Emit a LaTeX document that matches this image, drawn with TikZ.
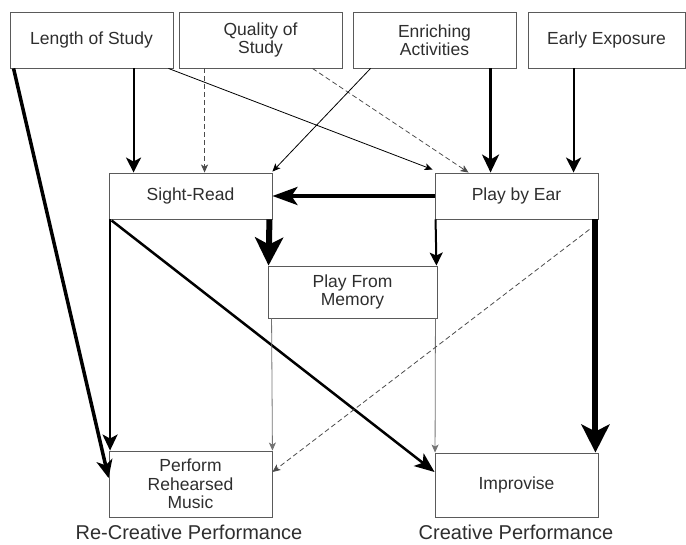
\documentclass[tikz,border=0pt]{standalone}
\usepackage{fontspec}
\setmainfont{Liberation Sans}
\usetikzlibrary{arrows.meta,calc}
\definecolor{boxline}{HTML}{5A5A5A}
\definecolor{txt}{HTML}{2E2E2E}
\begin{document}
\begin{tikzpicture}[x=1pt,y=-1pt,
  box/.style={draw=boxline,line width=0.9pt,inner sep=0pt,align=center,text=txt,
    font=\fontsize{17.5}{18.5}\selectfont,minimum width=163pt},
  lab/.style={text=txt,font=\fontsize{20}{22}\selectfont,inner sep=0pt,anchor=base},
  thinarrow/.style={line width=0.8pt,-{Stealth[length=8pt,width=7pt,inset=2pt]}},
  thingray/.style={draw=black!55,line width=0.8pt,-{Stealth[length=8pt,width=7pt,inset=2pt]}},
  dasharrow/.style={draw=black!70,line width=0.8pt,dash pattern=on 5pt off 3pt,-{Stealth[length=8pt,width=7pt,inset=2pt]}},
  medarrow/.style={line width=2pt,-{Stealth[length=15pt,width=15pt,inset=4pt]}},
  thickarrow/.style={line width=3pt,-{Stealth[length=18pt,width=17pt,inset=5pt]}},
  heavyarrow/.style={line width=6pt,-{Stealth[length=28pt,width=28pt,inset=7pt]}}]
\useasboundingbox (0,0) rectangle (686,545);
\node[box,minimum height=56pt] (LS) at (91.5,40) {Length of Study};
\node[box,minimum height=56pt] (QS) at (260.5,40) {Quality of\\Study};
\node[box,minimum height=56pt] (EA) at (434.5,40) {Enriching\\Activities};
\node[box,minimum height=56pt,minimum width=157pt] (EE) at (606.5,40) {Early Exposure};
\node[box,minimum height=46pt] (SR) at (190.5,196) {Sight-Read};
\node[box,minimum height=46pt] (PE) at (516.5,196) {Play by Ear};
\node[box,minimum height=52pt,minimum width=169pt] (PM) at (352.5,292) {Play From\\Memory};
\node[box,minimum height=66pt] (PR) at (190.5,484) {Perform\\Rehearsed\\Music};
\node[box,minimum height=64pt] (IM) at (516.5,485) {Improvise};
\node[lab] (L1) at (189,539) {Re-Creative Performance};
\node[lab] (L2) at (516,539) {Creative Performance};
% connectors
\draw[line width=3.5pt,-{Stealth[length=18pt,width=16pt,inset=5pt]}] ($(LS.south west)+(4,0)$) -- ($(PR.west)+(0,-6)$);
\draw[medarrow] ($(LS.south west)+(124,0)$) -- ($(SR.north west)+(25,0)$);
\draw[thinarrow] ($(LS.south east)+(-5,0)$) -- ($(PE.north west)+(-2,-3)$);
\draw[dasharrow] ($(QS.south west)+(26,0)$) -- ($(SR.north west)+(96,0)$);
\draw[dasharrow] ($(QS.south east)+(-30,0)$) -- ($(PE.north west)+(34,0)$);
\draw[thinarrow] ($(EA.south west)+(18,0)$) -- ($(SR.north east)+(0,-1)$);
\draw[thickarrow] ($(EA.south west)+(138,0)$) -- ($(PE.north west)+(56,0)$);
\draw[medarrow] ($(EE.south west)+(46,0)$) -- ($(PE.north west)+(139,0)$);
\draw[line width=3.5pt,-{Stealth[length=25pt,width=18pt,inset=6pt]}] (PE.west) -- (SR.east);
\draw[heavyarrow] ($(SR.south east)+(-3,0)$) -- ($(PM.north west)+(1,0)$);
\draw[line width=2pt,-{Stealth[length=13pt,width=13pt,inset=3pt]}] ($(PE.south west)+(1,0)$) -- ($(PM.north east)+(-1,0)$);
\draw[line width=2.5pt,-{Stealth[length=16pt,width=15pt,inset=4pt]}] ($(SR.south west)+(1.5,0)$) -- ($(PR.north west)+(1.5,0)$);
\draw[line width=2.5pt,-{Stealth[length=20pt,width=16pt,inset=5pt]}] ($(SR.south west)+(3,1)$) -- ($(IM.west)+(0,-13)$);
\draw[thingray] ($(PM.south west)+(4,0)$) -- (PR.north east);
\draw[thingray] ($(PM.south east)+(-2,0)$) -- ($(IM.north west)+(0.5,0)$);
\draw[dasharrow] ($(PE.south east)+(-9,10)$) -- ($(PR.east)+(0,-12)$);
\draw[heavyarrow] ($(PE.south east)+(-3,0)$) -- ($(IM.north east)+(-3,0)$);
\end{tikzpicture}
\end{document}
